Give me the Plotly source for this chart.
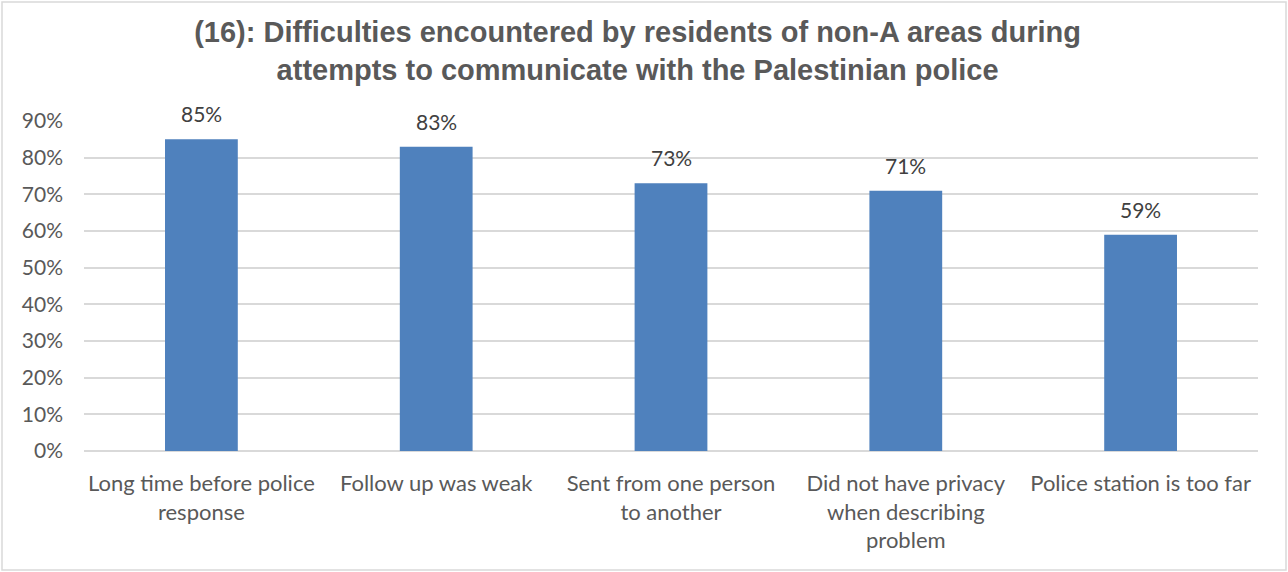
import plotly.graph_objects as go

categories = ["Long time before police<br>response", "Follow up was weak",
              "Sent from one person<br>to another", "Did not have privacy<br>when describing<br>problem",
              "Police station is too far"]
values = [0.85, 0.83, 0.73, 0.71, 0.59]
labels = ["85%", "83%", "73%", "71%", "59%"]
title = "<b>(16): Difficulties encountered by residents of non-A areas during<br>attempts to communicate with the Palestinian police</b>"

W, H = 1288, 572
L, R, T, B = 84, 30, 121, 121
pw, ph = W - L - R, H - T - B
FONT = "Lato, Open Sans, sans-serif"

fig = go.Figure()
fig.add_trace(go.Bar(x=categories, y=values, marker_color="#4f81bd",
                     marker_line_width=0, width=0.31))
for c, v, t in zip(categories, values, labels):
    fig.add_annotation(x=c, y=v, text=t, showarrow=False, yanchor="bottom", yshift=11,
                       font=dict(family=FONT, size=21, color="#404040"))

fig.add_shape(type="rect", xref="paper", yref="paper",
              x0=(2 - L) / pw, x1=(W - 2 - L) / pw,
              y0=-(B - 2) / ph, y1=1 + (T - 2) / ph,
              line=dict(color="#d9d9d9", width=1.5), fillcolor="rgba(0,0,0,0)", layer="below")

fig.update_layout(
    width=W, height=H,
    margin=dict(l=L, r=R, t=T, b=B),
    paper_bgcolor="white", plot_bgcolor="white",
    showlegend=False,
    title=dict(text=title, x=0.495, xref="container", xanchor="center",
               y=1 - 42 / H, yanchor="middle",
               font=dict(family="Liberation Sans, Arial, sans-serif", size=29, color="#595959")),
    font=dict(family=FONT, size=22, color="#595959"),
    bargap=0.69,
)
fig.update_xaxes(showline=False, ticks="", ticklabelstandoff=17,
                 tickfont=dict(size=22, color="#595959"))
fig.update_yaxes(range=[0, 0.9], dtick=0.1, tickformat=".0%", showgrid=True,
                 gridcolor="#d9d9d9", gridwidth=1.5, zeroline=True, zerolinecolor="#d9d9d9",
                 zerolinewidth=1.5, ticks="", ticklabelstandoff=20,
                 tickfont=dict(size=21, color="#595959"))

fig.write_html("out.html", post_script="document.body.style.margin='0';",
               config={"displayModeBar": False})
